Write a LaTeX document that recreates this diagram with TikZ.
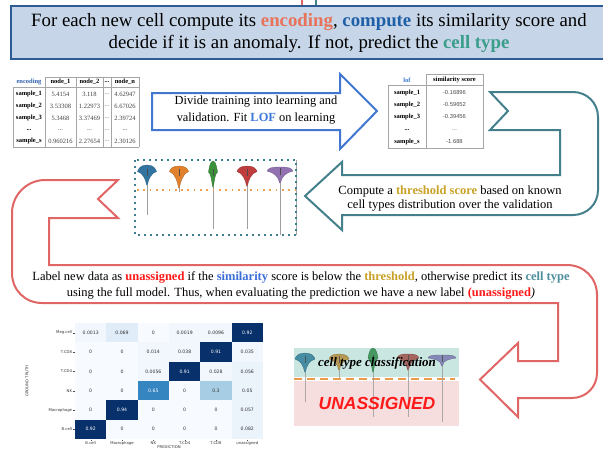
\documentclass[tikz,border=0pt]{standalone}
\usepackage{fontspec}
\setmainfont{Liberation Serif}
\newfontfamily\sansf{Liberation Sans}
\newfontfamily\dejavu{DejaVu Sans}

\definecolor{titlefill}{HTML}{C6D5E7}
\definecolor{titledraw}{HTML}{2D5C94}
\definecolor{encred}{HTML}{E8735A}
\definecolor{compblue}{HTML}{1F5FA8}
\definecolor{ctgreen}{HTML}{3A9E8A}
\definecolor{arrowblue}{HTML}{4177D0}
\definecolor{lofblue}{HTML}{3C78D8}
\definecolor{tealarrow}{HTML}{44808C}
\definecolor{gold}{HTML}{C9A227}
\definecolor{redarrow}{HTML}{E06666}
\definecolor{unred}{HTML}{FF1A1A}
\definecolor{simblue}{HTML}{3C6FD8}
\definecolor{ctteal}{HTML}{4E8F9C}
\definecolor{dotteal}{HTML}{3D7F8F}
\definecolor{dotorange}{HTML}{F0A050}
\definecolor{vblue}{HTML}{3274A1}
\definecolor{vorange}{HTML}{E1812C}
\definecolor{vgreen}{HTML}{3A923A}
\definecolor{vred}{HTML}{C03D3E}
\definecolor{vpurple}{HTML}{9372B2}
\definecolor{mblue}{HTML}{2F7D99}
\definecolor{morange}{HTML}{B38B3E}
\definecolor{mgreen}{HTML}{2E8B4A}
\definecolor{mred}{HTML}{A0504A}
\definecolor{mpurple}{HTML}{7A78B0}
\definecolor{cmz}{HTML}{F7FBFF}
\definecolor{cmlo}{HTML}{F1F7FD}
\definecolor{cmlt}{HTML}{EBF3FB}
\definecolor{cmmid}{HTML}{E0ECF8}
\definecolor{cmthree}{HTML}{A6CDE3}
\definecolor{cmsix}{HTML}{3585C1}
\definecolor{cmhi}{HTML}{08306B}
\definecolor{cmtxt}{HTML}{333333}
\definecolor{clsfill}{HTML}{CAE6E1}
\definecolor{unfill}{HTML}{F7DEDE}
\definecolor{dashorange}{HTML}{EC9A4A}

% three dots as table filler
\newcommand\ddd{.\kern0pt.\kern0pt.}

% violin: x, top y, half width, y of widest part, neck y, tail end y, colour
\newcommand\violin[7]{%
  \draw[gray!75, line width=0.7] (#1,#5) -- (#1,#6);
  \filldraw[fill=#7, draw=#7!75!black, line width=0.3]
    (#1,#2) .. controls ({#1+0.65*#3},#2) and ({#1+0.9*#3},{#4-3}) .. ({#1+#3},#4)
    .. controls ({#1+0.45*#3},{#4+1.5}) and ({#1+1.3},{#5-6}) .. ({#1+0.4},#5)
    -- ({#1-0.4},#5)
    .. controls ({#1-1.3},{#5-6}) and ({#1-0.45*#3},{#4+1.5}) .. ({#1-#3},#4)
    .. controls ({#1-0.9*#3},{#4-3}) and ({#1-0.65*#3},#2) .. cycle;
  \draw[black!70, line width=0.7] (#1,{#4-3}) -- (#1,{#4+4});
}

% confusion matrix cell: column, row, value, fill, text colour
\newcommand\cmcell[5]{%
  \fill[#4] ({75+#1*31.33},{323+#2*19.33}) rectangle ++(31.33,19.33);
  \node[font=\dejavu\fontsize{4.6}{5}\selectfont, text=#5] (cm-#1-#2)
    at ({75+(#1+0.5)*31.33},{323+(#2+0.5)*19.33}) {#3};
}

\begin{document}
\begin{tikzpicture}[x=1pt,y=-1pt,
  every node/.style={inner sep=0pt, outer sep=0pt},
  tabline/.style={draw=gray!70, line width=0.6},
  tabtxt/.style={font=\fontsize{6.5}{7}\selectfont},
  tabhead/.style={font=\bfseries\fontsize{6.5}{7}\selectfont},
  lofval/.style={font=\sansf\fontsize{5.8}{6}\selectfont, text=black!70},
  blockarrow/.style={line width=2, fill=white, line join=miter},
  cmlab/.style={font=\dejavu\fontsize{3.8}{4}\selectfont, text=black!80}]
\useasboundingbox (0,0) rectangle (603,450);
\clip (0,0) rectangle (603,450);

% ---- title banner ----
\draw[redarrow, line width=1.5] (302,0) -- (302,6);
\draw[tealarrow, line width=1.5] (316,0) -- (316,6);
\draw[fill=titlefill, draw=titledraw, line width=2] (11,6) rectangle (612,59);
\node[font=\fontsize{18.8}{22.5}\selectfont, align=center] (title) at (309,33)
  {For each new cell compute its {\color{encred}\bfseries encoding}, {\color{compblue}\bfseries compute} its similarity score and\\
   decide if it is an anomaly. If not, predict the {\color{ctgreen}\bfseries cell type}};

% ---- encoding table ----
\draw[tabline] (45,77) -- (139,77);
\draw[tabline] (13,87) -- (139,87);
\draw[tabline] (13,147) -- (139,147);
\draw[tabline] (13,87) -- (13,147);
\foreach \xx in {45,76,103,111,139} \draw[tabline] (\xx,77) -- (\xx,147);
\node[font=\bfseries\fontsize{6.5}{7}\selectfont, text=lofblue!80!black] (enc) at (29,82) {encoding};
\node[tabhead] (n1) at (60.5,82) {node\_1};
\node[tabhead] (n2) at (89.5,82) {node\_2};
\node[tabhead] (nd) at (107,82) {\ddd};
\node[tabhead] (nn) at (125,82) {node\_n};
\foreach \lab/\a/\b/\c/\yy [count=\i] in {
   sample\_1/5.4154/3.118/4.62947/94,
   sample\_2/3.53308/1.22973/6.67026/106,
   sample\_3/5.3468/3.37469/2.39724/118,
   \ddd/\ddd/\ddd/\ddd/130,
   sample\_s/0.960216/2.27654/2.30126/141} {
  \node[tabhead] (er\i) at (29,\yy) {\lab};
  \node[tabtxt, text=black!75] (ea\i) at (60.5,\yy) {\a};
  \node[tabtxt, text=black!75] (eb\i) at (89.5,\yy) {\b};
  \node[tabtxt, text=black!60] (ed\i) at (107,\yy) {\ddd};
  \node[tabtxt, text=black!75] (ec\i) at (125,\yy) {\c};
}

% ---- learning arrow ----
\draw[arrowblue, blockarrow] (152,93) -- (340,93) -- (340,74) -- (377,111) -- (340,149) -- (340,130) -- (152,130) -- cycle;
\node[font=\fontsize{12.4}{17}\selectfont, align=center] (learn) at (256,110.5)
  {Divide training into learning and\\ validation. Fit {\color{lofblue}\bfseries LOF} on learning};

% ---- lof table ----
\draw[tabline] (426,74) rectangle (483,85);
\draw[tabline] (388,85) rectangle (483,148);
\draw[tabline] (426,85) -- (426,148);
\node[font=\bfseries\fontsize{6.5}{7}\selectfont, text=lofblue] (lof) at (407,80) {lof};
\node[tabhead] (simh) at (454.5,80) {similarity score};
\foreach \lab/\v/\yy [count=\i] in {sample\_1/-0.16896/93, sample\_2/-0.59652/105, sample\_3/-0.39456/117, \ddd/\ddd/130, sample\_s/-1.688/142} {
  \node[tabhead] (lr\i) at (407,\yy) {\lab};
  \node[lofval] (lv\i) at (454.5,\yy) {\v};
}

% ---- threshold U-turn arrow ----
\draw[tealarrow, blockarrow]
  (490,92) -- (573,92) .. controls (587,92) and (598,103) .. (598,117)
  -- (598,190) .. controls (598,204) and (587,215) .. (573,215)
  -- (342,215) -- (342,230) -- (305,196) -- (342,162) -- (342,175)
  -- (560,175) -- (560,130) -- (490,130) -- (508,111) -- cycle;
\node[font=\fontsize{12.5}{14.5}\selectfont, align=center] (thr) at (450,198.5)
  {Compute a {\color{gold}\bfseries threshold score} based on known\\ cell types distribution over the validation};

% ---- violins over the validation set ----
\draw[gray!70, line width=0.7] (296,160) -- (296,235);
\draw[dotteal, line width=1.7, dash pattern=on 1.7pt off 4.3pt] (135,160) rectangle (296,235);
\violin{147}{165}{9.5}{171.5}{185}{215}{vblue}
\violin{179}{166}{9.5}{171.5}{188}{192}{vorange}
\violin{213}{161}{4.5}{172}{187}{229}{vgreen}
\violin{247}{166}{10}{171.5}{186}{229}{vred}
\violin{280}{167}{13}{171}{183}{235}{vpurple}
\draw[dotorange, line width=1.7, dash pattern=on 1.7pt off 4.6pt] (137,190) -- (296,190);

% ---- prediction U-turn arrow ----
\draw[redarrow, blockarrow]
  (118,180) -- (45,180) .. controls (27,180) and (12,195) .. (12,213)
  -- (12,273) .. controls (12,290) and (25,303) .. (42,303)
  -- (558,303) -- (558,361) -- (518,361) -- (518,343) -- (480,379.5)
  -- (518,417) -- (518,398) -- (572,398) .. controls (586,398) and (597,387) .. (597,373)
  -- (597,295) .. controls (597,278) and (584,265) .. (567,265)
  -- (49,265) -- (49,218) -- (118,218) -- (98,199) -- cycle;
\node[font=\fontsize{12.5}{16.5}\selectfont, align=center] (rule) at (301,285.5)
  {Label new data as {\color{unred}\bfseries unassigned} if the {\color{simblue}\bfseries similarity} score is below the {\color{gold}\bfseries threshold}, otherwise predict its {\color{ctteal}\bfseries cell type}\\
   using the full model. Thus, when evaluating the prediction we have a new label {\color{unred}\bfseries(unassigned}\textit{)}};

% ---- confusion matrix ----
\foreach \c/\v/\f/\t in {0/0.0013/cmlo/cmtxt,1/0.069/cmmid/cmtxt,2/0/cmz/cmtxt,3/0.0019/cmlo/cmtxt,4/0.0096/cmlo/cmtxt,5/0.92/cmhi/white}
  {\cmcell{\c}{0}{\v}{\f}{\t}}
\foreach \c/\v/\f/\t in {0/0/cmz/cmtxt,1/0/cmz/cmtxt,2/0.014/cmlo/cmtxt,3/0.038/cmlo/cmtxt,4/0.91/cmhi/white,5/0.035/cmlo/cmtxt}
  {\cmcell{\c}{1}{\v}{\f}{\t}}
\foreach \c/\v/\f/\t in {0/0/cmz/cmtxt,1/0/cmz/cmtxt,2/0.0056/cmlo/cmtxt,3/0.91/cmhi/white,4/0.028/cmlo/cmtxt,5/0.056/cmlt/cmtxt}
  {\cmcell{\c}{2}{\v}{\f}{\t}}
\foreach \c/\v/\f/\t in {0/0/cmz/cmtxt,1/0/cmz/cmtxt,2/0.65/cmsix/white,3/0/cmz/cmtxt,4/0.3/cmthree/cmtxt,5/0.05/cmlt/cmtxt}
  {\cmcell{\c}{3}{\v}{\f}{\t}}
\foreach \c/\v/\f/\t in {0/0/cmz/cmtxt,1/0.94/cmhi/white,2/0/cmz/cmtxt,3/0/cmz/cmtxt,4/0/cmz/cmtxt,5/0.057/cmlt/cmtxt}
  {\cmcell{\c}{4}{\v}{\f}{\t}}
\foreach \c/\v/\f/\t in {0/0.92/cmhi/white,1/0/cmz/cmtxt,2/0/cmz/cmtxt,3/0/cmz/cmtxt,4/0/cmz/cmtxt,5/0.082/cmlt/cmtxt}
  {\cmcell{\c}{5}{\v}{\f}{\t}}
\foreach \lab [count=\r from 0] in {Meg.cell, T.CD8, T.CD4, NK, Macrophage, B.cell} {
  \draw[black!70, line width=0.3] (72.5,{323+(\r+0.5)*19.33}) -- (74.5,{323+(\r+0.5)*19.33});
  \node[cmlab, anchor=east] (yl\r) at (72,{323+(\r+0.5)*19.33}) {\lab};
}
\foreach \lab [count=\c from 0] in {B.cell, Macrophage, NK, T.CD4, T.CD8, unassigned} {
  \draw[black!70, line width=0.3] ({75+(\c+0.5)*31.33},439.5) -- ({75+(\c+0.5)*31.33},441.3);
  \node[cmlab] (xl\c) at ({75+(\c+0.5)*31.33},443.5) {\lab};
}
\node[cmlab] (xtitle) at (169,447.6) {PREDICTION};
\node[cmlab, rotate=90] (ytitle) at (27,381) {GROUND TRUTH};

% ---- classification / unassigned panel ----
\fill[clsfill] (294,348) rectangle (459,377);
\fill[unfill] (294,381) rectangle (459,426);
\draw[dashorange, line width=2.6, dash pattern=on 8pt off 5pt] (294,379) -- (455,379);
\begin{scope}[opacity=0.85]
\violin{305}{353}{10}{359}{372}{402}{mblue}
\violin{339}{354}{10}{359}{370}{378}{morange}
\violin{373}{348}{5}{358}{372}{417}{mgreen}
\violin{408}{354}{11}{358}{370}{417}{mred}
\violin{442}{355}{14}{358}{366}{422}{mpurple}
\end{scope}
\node[font=\bfseries\itshape\fontsize{13}{14}\selectfont] (cls) at (377,363) {cell type classification};
\node[font=\sansf\bfseries\itshape\fontsize{17.5}{18}\selectfont, text=unred] (unas) at (377,403) {UNASSIGNED};
\end{tikzpicture}
\end{document}
